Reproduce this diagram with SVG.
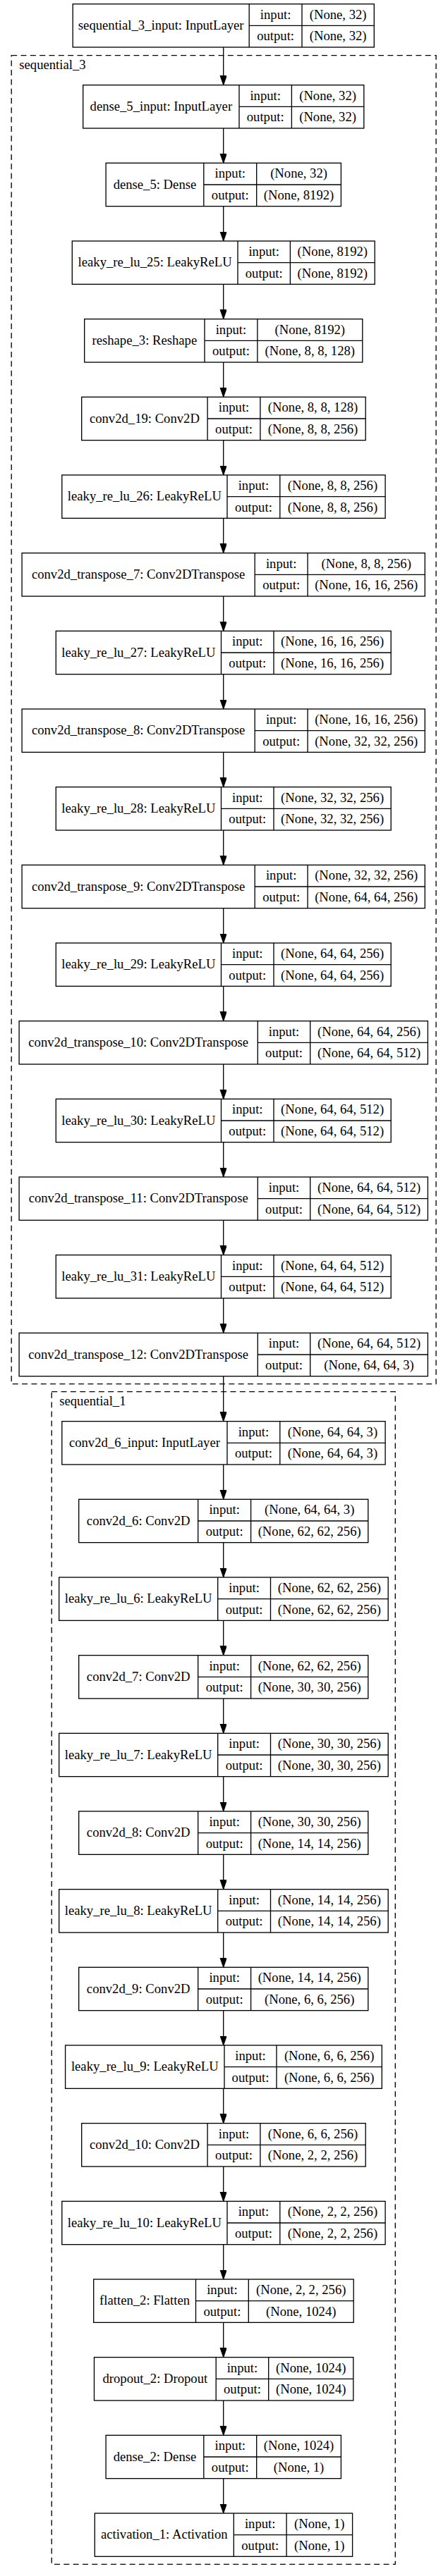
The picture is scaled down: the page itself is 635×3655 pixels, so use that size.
<svg xmlns="http://www.w3.org/2000/svg" width="635" height="3655" viewBox="0 0 635 3655">
<style>
text{font-family:"Liberation Serif","Times New Roman",serif;font-size:18.67px;fill:#000;text-anchor:middle}
text.cl{text-anchor:start}
.node rect{fill:#fff;stroke:#000;stroke-width:1.33}
.node path{fill:none;stroke:#000;stroke-width:1.33}
.cluster{fill:none;stroke:#000;stroke-width:1.33;stroke-dasharray:8 5.33}
#edges path{fill:none;stroke:#000;stroke-width:1.33;marker-end:url(#arr)}
</style>
<defs>
<marker id="arr" markerUnits="userSpaceOnUse" markerWidth="14" markerHeight="10" refX="13.33" refY="4.67" orient="auto">
<path d="M0,0 L13.33,4.67 L0,9.33 z" fill="#000" stroke="#000" stroke-width="1"/>
</marker>
</defs>
<rect x="0" y="0" width="635" height="3655" fill="#fff"/>

<g id="clusters">
<rect class="cluster" x="16.2" y="78.7" width="601.9" height="1885"/>
<text class="cl" x="27.3" y="98.4">sequential_3</text>
<rect class="cluster" x="73.2" y="1974.7" width="487.1" height="1663.6"/>
<text class="cl" x="84.2" y="1994.4">sequential_1</text>
</g>

<g id="edges">
<path d="M316.7 67V120.67"/>
<path d="M316.7 182V231.33"/>
<path d="M316.7 292.67V342"/>
<path d="M316.7 403.33V452.67"/>
<path d="M316.7 514V563.33"/>
<path d="M316.7 624.67V674"/>
<path d="M316.7 735.33V784.67"/>
<path d="M316.7 846V895.33"/>
<path d="M316.7 956.67V1006"/>
<path d="M316.7 1067.33V1116.67"/>
<path d="M316.7 1178V1227.33"/>
<path d="M316.7 1288.67V1338"/>
<path d="M316.7 1399.33V1448.67"/>
<path d="M316.7 1510V1559.33"/>
<path d="M316.7 1620.67V1670"/>
<path d="M316.7 1731.33V1780.67"/>
<path d="M316.7 1842V1891.33"/>
<path d="M316.7 1952.67V2016.67"/>
<path d="M316.7 2078V2127.33"/>
<path d="M316.7 2188.67V2238"/>
<path d="M316.7 2299.33V2348.67"/>
<path d="M316.7 2410V2459.33"/>
<path d="M316.7 2520.67V2570"/>
<path d="M316.7 2631.33V2680.67"/>
<path d="M316.7 2742V2791.33"/>
<path d="M316.7 2852.67V2902"/>
<path d="M316.7 2963.33V3012.67"/>
<path d="M316.7 3074V3123.33"/>
<path d="M316.7 3184.67V3234"/>
<path d="M316.7 3295.33V3344.67"/>
<path d="M316.7 3406V3455.33"/>
<path d="M316.7 3516.67V3566"/>
</g>

<g id="sequential_3_input" class="node" transform="translate(0,5.67)">
<rect x="103.2" y="0" width="427.1" height="61.33"/>
<path d="M353.2 0V61.33M428 0V61.33M353.2 30.67H530.3"/>
<text x="228.2" y="36.3">sequential_3_input: InputLayer</text>
<text x="390.6" y="21">input:</text><text x="390.6" y="51.6">output:</text>
<text x="479.15" y="21">(None, 32)</text><text x="479.15" y="51.6">(None, 32)</text>
</g>

<g id="dense_5_input" class="node" transform="translate(0,120.67)">
<rect x="117.7" y="0" width="398.1" height="61.33"/>
<path d="M339 0V61.33M413.4 0V61.33M339 30.67H515.8"/>
<text x="228.35" y="36.3">dense_5_input: InputLayer</text>
<text x="376.2" y="21">input:</text><text x="376.2" y="51.6">output:</text>
<text x="464.6" y="21">(None, 32)</text><text x="464.6" y="51.6">(None, 32)</text>
</g>

<g id="dense_5" class="node" transform="translate(0,231.33)">
<rect x="150.1" y="0" width="333.3" height="61.33"/>
<path d="M288.8 0V61.33M363.7 0V61.33M288.8 30.67H483.4"/>
<text x="219.45" y="36.3">dense_5: Dense</text>
<text x="326.25" y="21">input:</text><text x="326.25" y="51.6">output:</text>
<text x="423.55" y="21">(None, 32)</text><text x="423.55" y="51.6">(None, 8192)</text>
</g>

<g id="leaky_re_lu_25" class="node" transform="translate(0,342)">
<rect x="102.3" y="0" width="428.9" height="61.33"/>
<path d="M337 0V61.33M411.4 0V61.33M337 30.67H531.2"/>
<text x="219.65" y="36.3">leaky_re_lu_25: LeakyReLU</text>
<text x="374.2" y="21">input:</text><text x="374.2" y="51.6">output:</text>
<text x="471.3" y="21">(None, 8192)</text><text x="471.3" y="51.6">(None, 8192)</text>
</g>

<g id="reshape_3" class="node" transform="translate(0,452.67)">
<rect x="119.7" y="0" width="394.1" height="61.33"/>
<path d="M290 0V61.33M364.9 0V61.33M290 30.67H513.8"/>
<text x="204.85" y="36.3">reshape_3: Reshape</text>
<text x="327.45" y="21">input:</text><text x="327.45" y="51.6">output:</text>
<text x="439.35" y="21">(None, 8192)</text><text x="439.35" y="51.6">(None, 8, 8, 128)</text>
</g>

<g id="conv2d_19" class="node" transform="translate(0,563.33)">
<rect x="115.7" y="0" width="402.5" height="61.33"/>
<path d="M294.1 0V61.33M368.9 0V61.33M294.1 30.67H518.2"/>
<text x="204.9" y="36.3">conv2d_19: Conv2D</text>
<text x="331.5" y="21">input:</text><text x="331.5" y="51.6">output:</text>
<text x="443.55" y="21">(None, 8, 8, 128)</text><text x="443.55" y="51.6">(None, 8, 8, 256)</text>
</g>

<g id="leaky_re_lu_26" class="node" transform="translate(0,674)">
<rect x="87.8" y="0" width="458.3" height="61.33"/>
<path d="M322 0V61.33M396.8 0V61.33M322 30.67H546.1"/>
<text x="204.9" y="36.3">leaky_re_lu_26: LeakyReLU</text>
<text x="359.4" y="21">input:</text><text x="359.4" y="51.6">output:</text>
<text x="471.45" y="21">(None, 8, 8, 256)</text><text x="471.45" y="51.6">(None, 8, 8, 256)</text>
</g>

<g id="conv2d_transpose_7" class="node" transform="translate(0,784.67)">
<rect x="31.1" y="0" width="571.2" height="61.33"/>
<path d="M361.2 0V61.33M436.1 0V61.33M361.2 30.67H602.3"/>
<text x="196.15" y="36.3">conv2d_transpose_7: Conv2DTranspose</text>
<text x="398.65" y="21">input:</text><text x="398.65" y="51.6">output:</text>
<text x="519.2" y="21">(None, 8, 8, 256)</text><text x="519.2" y="51.6">(None, 16, 16, 256)</text>
</g>

<g id="leaky_re_lu_27" class="node" transform="translate(0,895.33)">
<rect x="79.3" y="0" width="474.9" height="61.33"/>
<path d="M313.5 0V61.33M388 0V61.33M313.5 30.67H554.2"/>
<text x="196.4" y="36.3">leaky_re_lu_27: LeakyReLU</text>
<text x="350.75" y="21">input:</text><text x="350.75" y="51.6">output:</text>
<text x="471.1" y="21">(None, 16, 16, 256)</text><text x="471.1" y="51.6">(None, 16, 16, 256)</text>
</g>

<g id="conv2d_transpose_8" class="node" transform="translate(0,1006)">
<rect x="31.1" y="0" width="571.2" height="61.33"/>
<path d="M361.2 0V61.33M436.1 0V61.33M361.2 30.67H602.3"/>
<text x="196.15" y="36.3">conv2d_transpose_8: Conv2DTranspose</text>
<text x="398.65" y="21">input:</text><text x="398.65" y="51.6">output:</text>
<text x="519.2" y="21">(None, 16, 16, 256)</text><text x="519.2" y="51.6">(None, 32, 32, 256)</text>
</g>

<g id="leaky_re_lu_28" class="node" transform="translate(0,1116.67)">
<rect x="79.3" y="0" width="474.9" height="61.33"/>
<path d="M313.5 0V61.33M388 0V61.33M313.5 30.67H554.2"/>
<text x="196.4" y="36.3">leaky_re_lu_28: LeakyReLU</text>
<text x="350.75" y="21">input:</text><text x="350.75" y="51.6">output:</text>
<text x="471.1" y="21">(None, 32, 32, 256)</text><text x="471.1" y="51.6">(None, 32, 32, 256)</text>
</g>

<g id="conv2d_transpose_9" class="node" transform="translate(0,1227.33)">
<rect x="31.1" y="0" width="571.2" height="61.33"/>
<path d="M361.2 0V61.33M436.1 0V61.33M361.2 30.67H602.3"/>
<text x="196.15" y="36.3">conv2d_transpose_9: Conv2DTranspose</text>
<text x="398.65" y="21">input:</text><text x="398.65" y="51.6">output:</text>
<text x="519.2" y="21">(None, 32, 32, 256)</text><text x="519.2" y="51.6">(None, 64, 64, 256)</text>
</g>

<g id="leaky_re_lu_29" class="node" transform="translate(0,1338)">
<rect x="79.3" y="0" width="474.9" height="61.33"/>
<path d="M313.5 0V61.33M388 0V61.33M313.5 30.67H554.2"/>
<text x="196.4" y="36.3">leaky_re_lu_29: LeakyReLU</text>
<text x="350.75" y="21">input:</text><text x="350.75" y="51.6">output:</text>
<text x="471.1" y="21">(None, 64, 64, 256)</text><text x="471.1" y="51.6">(None, 64, 64, 256)</text>
</g>

<g id="conv2d_transpose_10" class="node" transform="translate(0,1448.67)">
<rect x="27.1" y="0" width="579.3" height="61.33"/>
<path d="M365.3 0V61.33M439.7 0V61.33M365.3 30.67H606.4"/>
<text x="196.2" y="36.3">conv2d_transpose_10: Conv2DTranspose</text>
<text x="402.5" y="21">input:</text><text x="402.5" y="51.6">output:</text>
<text x="523.05" y="21">(None, 64, 64, 256)</text><text x="523.05" y="51.6">(None, 64, 64, 512)</text>
</g>

<g id="leaky_re_lu_30" class="node" transform="translate(0,1559.33)">
<rect x="79.3" y="0" width="474.9" height="61.33"/>
<path d="M313.5 0V61.33M388 0V61.33M313.5 30.67H554.2"/>
<text x="196.4" y="36.3">leaky_re_lu_30: LeakyReLU</text>
<text x="350.75" y="21">input:</text><text x="350.75" y="51.6">output:</text>
<text x="471.1" y="21">(None, 64, 64, 512)</text><text x="471.1" y="51.6">(None, 64, 64, 512)</text>
</g>

<g id="conv2d_transpose_11" class="node" transform="translate(0,1670)">
<rect x="27.1" y="0" width="579.3" height="61.33"/>
<path d="M365.3 0V61.33M439.7 0V61.33M365.3 30.67H606.4"/>
<text x="196.2" y="36.3">conv2d_transpose_11: Conv2DTranspose</text>
<text x="402.5" y="21">input:</text><text x="402.5" y="51.6">output:</text>
<text x="523.05" y="21">(None, 64, 64, 512)</text><text x="523.05" y="51.6">(None, 64, 64, 512)</text>
</g>

<g id="leaky_re_lu_31" class="node" transform="translate(0,1780.67)">
<rect x="79.3" y="0" width="474.9" height="61.33"/>
<path d="M313.5 0V61.33M388 0V61.33M313.5 30.67H554.2"/>
<text x="196.4" y="36.3">leaky_re_lu_31: LeakyReLU</text>
<text x="350.75" y="21">input:</text><text x="350.75" y="51.6">output:</text>
<text x="471.1" y="21">(None, 64, 64, 512)</text><text x="471.1" y="51.6">(None, 64, 64, 512)</text>
</g>

<g id="conv2d_transpose_12" class="node" transform="translate(0,1891.33)">
<rect x="27.1" y="0" width="579.3" height="61.33"/>
<path d="M365.3 0V61.33M439.7 0V61.33M365.3 30.67H606.4"/>
<text x="196.2" y="36.3">conv2d_transpose_12: Conv2DTranspose</text>
<text x="402.5" y="21">input:</text><text x="402.5" y="51.6">output:</text>
<text x="523.05" y="21">(None, 64, 64, 512)</text><text x="523.05" y="51.6">(None, 64, 64, 3)</text>
</g>

<g id="conv2d_6_input" class="node" transform="translate(0,2016.67)">
<rect x="87.8" y="0" width="458.3" height="61.33"/>
<path d="M322 0V61.33M396.8 0V61.33M322 30.67H546.1"/>
<text x="204.9" y="36.3">conv2d_6_input: InputLayer</text>
<text x="359.4" y="21">input:</text><text x="359.4" y="51.6">output:</text>
<text x="471.45" y="21">(None, 64, 64, 3)</text><text x="471.45" y="51.6">(None, 64, 64, 3)</text>
</g>

<g id="conv2d_6" class="node" transform="translate(0,2127.33)">
<rect x="111.7" y="0" width="410.1" height="61.33"/>
<path d="M280.7 0V61.33M355.6 0V61.33M280.7 30.67H521.8"/>
<text x="196.2" y="36.3">conv2d_6: Conv2D</text>
<text x="318.15" y="21">input:</text><text x="318.15" y="51.6">output:</text>
<text x="438.7" y="21">(None, 64, 64, 3)</text><text x="438.7" y="51.6">(None, 62, 62, 256)</text>
</g>

<g id="leaky_re_lu_6" class="node" transform="translate(0,2238)">
<rect x="83.7" y="0" width="466.5" height="61.33"/>
<path d="M308.7 0V61.33M383.5 0V61.33M308.7 30.67H550.2"/>
<text x="196.2" y="36.3">leaky_re_lu_6: LeakyReLU</text>
<text x="346.1" y="21">input:</text><text x="346.1" y="51.6">output:</text>
<text x="466.85" y="21">(None, 62, 62, 256)</text><text x="466.85" y="51.6">(None, 62, 62, 256)</text>
</g>

<g id="conv2d_7" class="node" transform="translate(0,2348.67)">
<rect x="111.7" y="0" width="410.1" height="61.33"/>
<path d="M280.7 0V61.33M355.6 0V61.33M280.7 30.67H521.8"/>
<text x="196.2" y="36.3">conv2d_7: Conv2D</text>
<text x="318.15" y="21">input:</text><text x="318.15" y="51.6">output:</text>
<text x="438.7" y="21">(None, 62, 62, 256)</text><text x="438.7" y="51.6">(None, 30, 30, 256)</text>
</g>

<g id="leaky_re_lu_7" class="node" transform="translate(0,2459.33)">
<rect x="83.7" y="0" width="466.5" height="61.33"/>
<path d="M308.7 0V61.33M383.5 0V61.33M308.7 30.67H550.2"/>
<text x="196.2" y="36.3">leaky_re_lu_7: LeakyReLU</text>
<text x="346.1" y="21">input:</text><text x="346.1" y="51.6">output:</text>
<text x="466.85" y="21">(None, 30, 30, 256)</text><text x="466.85" y="51.6">(None, 30, 30, 256)</text>
</g>

<g id="conv2d_8" class="node" transform="translate(0,2570)">
<rect x="111.7" y="0" width="410.1" height="61.33"/>
<path d="M280.7 0V61.33M355.6 0V61.33M280.7 30.67H521.8"/>
<text x="196.2" y="36.3">conv2d_8: Conv2D</text>
<text x="318.15" y="21">input:</text><text x="318.15" y="51.6">output:</text>
<text x="438.7" y="21">(None, 30, 30, 256)</text><text x="438.7" y="51.6">(None, 14, 14, 256)</text>
</g>

<g id="leaky_re_lu_8" class="node" transform="translate(0,2680.67)">
<rect x="83.7" y="0" width="466.5" height="61.33"/>
<path d="M308.7 0V61.33M383.5 0V61.33M308.7 30.67H550.2"/>
<text x="196.2" y="36.3">leaky_re_lu_8: LeakyReLU</text>
<text x="346.1" y="21">input:</text><text x="346.1" y="51.6">output:</text>
<text x="466.85" y="21">(None, 14, 14, 256)</text><text x="466.85" y="51.6">(None, 14, 14, 256)</text>
</g>

<g id="conv2d_9" class="node" transform="translate(0,2791.33)">
<rect x="111.7" y="0" width="410.1" height="61.33"/>
<path d="M280.7 0V61.33M355.6 0V61.33M280.7 30.67H521.8"/>
<text x="196.2" y="36.3">conv2d_9: Conv2D</text>
<text x="318.15" y="21">input:</text><text x="318.15" y="51.6">output:</text>
<text x="438.7" y="21">(None, 14, 14, 256)</text><text x="438.7" y="51.6">(None, 6, 6, 256)</text>
</g>

<g id="leaky_re_lu_9" class="node" transform="translate(0,2902)">
<rect x="92.6" y="0" width="448.7" height="61.33"/>
<path d="M318 0V61.33M392 0V61.33M318 30.67H541.3"/>
<text x="205.3" y="36.3">leaky_re_lu_9: LeakyReLU</text>
<text x="355" y="21">input:</text><text x="355" y="51.6">output:</text>
<text x="466.65" y="21">(None, 6, 6, 256)</text><text x="466.65" y="51.6">(None, 6, 6, 256)</text>
</g>

<g id="conv2d_10" class="node" transform="translate(0,3012.67)">
<rect x="115.7" y="0" width="402.5" height="61.33"/>
<path d="M294.1 0V61.33M368.9 0V61.33M294.1 30.67H518.2"/>
<text x="204.9" y="36.3">conv2d_10: Conv2D</text>
<text x="331.5" y="21">input:</text><text x="331.5" y="51.6">output:</text>
<text x="443.55" y="21">(None, 6, 6, 256)</text><text x="443.55" y="51.6">(None, 2, 2, 256)</text>
</g>

<g id="leaky_re_lu_10" class="node" transform="translate(0,3123.33)">
<rect x="87.8" y="0" width="458.3" height="61.33"/>
<path d="M322 0V61.33M396.8 0V61.33M322 30.67H546.1"/>
<text x="204.9" y="36.3">leaky_re_lu_10: LeakyReLU</text>
<text x="359.4" y="21">input:</text><text x="359.4" y="51.6">output:</text>
<text x="471.45" y="21">(None, 2, 2, 256)</text><text x="471.45" y="51.6">(None, 2, 2, 256)</text>
</g>

<g id="flatten_2" class="node" transform="translate(0,3234)">
<rect x="132.7" y="0" width="368.5" height="61.33"/>
<path d="M277.5 0V61.33M352.3 0V61.33M277.5 30.67H501.2"/>
<text x="205.1" y="36.3">flatten_2: Flatten</text>
<text x="314.9" y="21">input:</text><text x="314.9" y="51.6">output:</text>
<text x="426.75" y="21">(None, 2, 2, 256)</text><text x="426.75" y="51.6">(None, 1024)</text>
</g>

<g id="dropout_2" class="node" transform="translate(0,3344.67)">
<rect x="133.5" y="0" width="367.3" height="61.33"/>
<path d="M306.2 0V61.33M380.7 0V61.33M306.2 30.67H500.8"/>
<text x="219.85" y="36.3">dropout_2: Dropout</text>
<text x="343.45" y="21">input:</text><text x="343.45" y="51.6">output:</text>
<text x="440.75" y="21">(None, 1024)</text><text x="440.75" y="51.6">(None, 1024)</text>
</g>

<g id="dense_2" class="node" transform="translate(0,3455.33)">
<rect x="150.1" y="0" width="333.3" height="61.33"/>
<path d="M288.8 0V61.33M363.7 0V61.33M288.8 30.67H483.4"/>
<text x="219.45" y="36.3">dense_2: Dense</text>
<text x="326.25" y="21">input:</text><text x="326.25" y="51.6">output:</text>
<text x="423.55" y="21">(None, 1024)</text><text x="423.55" y="51.6">(None, 1)</text>
</g>

<g id="activation_1" class="node" transform="translate(0,3566)">
<rect x="134.3" y="0" width="365.3" height="61.33"/>
<path d="M331.3 0V61.33M406.1 0V61.33M331.3 30.67H499.6"/>
<text x="232.8" y="36.3">activation_1: Activation</text>
<text x="368.7" y="21">input:</text><text x="368.7" y="51.6">output:</text>
<text x="452.85" y="21">(None, 1)</text><text x="452.85" y="51.6">(None, 1)</text>
</g>
</svg>
